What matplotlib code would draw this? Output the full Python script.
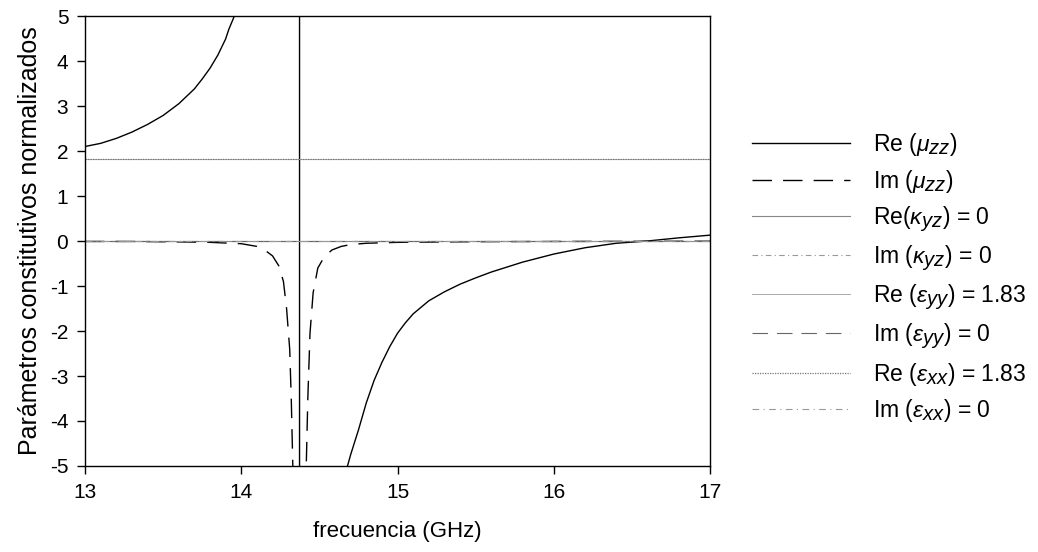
import numpy as np
import matplotlib
matplotlib.use("Agg")
import matplotlib.pyplot as plt
import matplotlib._mathtext as mathtext_internal

plt.rcParams['font.family'] = ['Liberation Sans', 'DejaVu Sans']
plt.rcParams['mathtext.fontset'] = 'custom'
plt.rcParams['mathtext.rm'] = 'Liberation Sans'
plt.rcParams['mathtext.it'] = 'Liberation Sans:italic'
plt.rcParams['axes.unicode_minus'] = False
# subscripts in the original are nearly full size
mathtext_internal.SHRINK_FACTOR = 0.88

# Re(mu_zz): branch below resonance, jump at the pole, branch above
freq_re_mu = [13.0, 13.1, 13.2, 13.3, 13.4, 13.5, 13.6, 13.7, 13.75, 13.8, 13.85,
              13.9, 13.92, 13.95, 14.0, 14.373, 14.373, 14.6, 14.68, 14.7, 14.75,
              14.8, 14.85, 14.9, 14.95, 15.0, 15.05, 15.1, 15.2, 15.3, 15.4,
              15.5, 15.6, 15.7, 15.8, 15.9, 16.0, 16.2, 16.4, 16.6, 16.8, 17.0]
re_mu = [2.10, 2.17, 2.28, 2.42, 2.59, 2.79, 3.05, 3.38, 3.60, 3.84, 4.13,
         4.49, 4.70, 4.95, 5.45, 80.0, -80.0, -6.5, -5.0, -4.75, -4.2,
         -3.6, -3.1, -2.7, -2.35, -2.05, -1.82, -1.62, -1.33, -1.13, -0.96,
         -0.82, -0.69, -0.58, -0.47, -0.38, -0.29, -0.15, -0.05, 0.0, 0.07, 0.13]

# Im(mu_zz): narrow loss peak at the resonance
freq_im_mu = [13.0, 13.3, 13.6, 13.8, 14.0, 14.1, 14.15, 14.2, 14.24, 14.27,
              14.29, 14.31, 14.32, 14.33, 14.35, 14.373, 14.40, 14.416, 14.426,
              14.44, 14.46, 14.49, 14.53, 14.58, 14.64, 14.7, 14.8, 15.0,
              15.5, 16.0, 17.0]
im_mu = [-0.01, -0.01, -0.02, -0.03, -0.06, -0.12, -0.2, -0.33, -0.55, -0.9,
         -1.5, -2.4, -3.5, -5.0, -9.0, -20.0, -9.0, -5.0, -3.5,
         -2.05, -1.15, -0.6, -0.36, -0.2, -0.12, -0.08, -0.05, -0.03,
         -0.015, -0.01, -0.005]

freq_const = [13.0, 17.0]
re_kyz = [0.0, 0.0]
im_kyz = [0.0, 0.0]
re_eyy = [1.83, 1.83]
im_eyy = [0.0, 0.0]
re_exx = [1.83, 1.83]
im_exx = [0.0, 0.0]

x_ticks = [13, 14, 15, 16, 17]
y_ticks = [-5, -4, -3, -2, -1, 0, 1, 2, 3, 4, 5]

fig = plt.figure(figsize=(10.38, 5.52), dpi=100)
ax = fig.add_axes([0.0819, 0.1558, 0.6021, 0.8152])

ax.plot(freq_re_mu, re_mu, color='black', lw=1.0, label=r'Re ($\mu_{zz}$)')
ax.plot(freq_im_mu, im_mu, color='black', lw=1.0, dashes=(14, 8),
        label=r'Im ($\mu_{zz}$)')
ax.plot(freq_const, re_kyz, color='#888888', lw=0.8, label=r'Re($\kappa_{yz}$) = 0')
ax.plot(freq_const, im_kyz, color='#999999', lw=0.8, dashes=(5, 3, 1, 3),
        label=r'Im ($\kappa_{yz}$) = 0')
ax.plot(freq_const, re_eyy, color='#aaaaaa', lw=0.7, label=r'Re ($\varepsilon_{yy}$) = 1.83')
ax.plot(freq_const, im_eyy, color='#666666', lw=0.8, dashes=(14, 8),
        label=r'Im ($\varepsilon_{yy}$) = 0')
ax.plot(freq_const, re_exx, color='#777777', lw=0.9, dashes=(1, 1),
        label=r'Re ($\varepsilon_{xx}$) = 1.83')
ax.plot(freq_const, im_exx, color='#999999', lw=0.8, dashes=(6, 4, 1, 4),
        label=r'Im ($\varepsilon_{xx}$) = 0')

ax.set_xlim(13, 17)
ax.set_ylim(-5, 5)
ax.set_xticks(x_ticks)
ax.set_yticks(y_ticks)
ax.tick_params(direction='out', length=6, width=1, labelsize=15, pad=6)
for s in ax.spines.values():
    s.set_linewidth(1.0)

ax.set_xlabel('frecuencia (GHz)', fontsize=16, labelpad=14)
ax.set_ylabel('Parámetros constitutivos normalizados', fontsize=18, labelpad=6)

handles, labels = ax.get_legend_handles_labels()
fig.legend(handles, labels, loc='upper left', bbox_to_anchor=(0.7045, 0.80),
           frameon=False, fontsize=16.5, handlelength=4.3, handletextpad=1.0,
           labelspacing=0.42)

fig.savefig('out.png', dpi=100)
